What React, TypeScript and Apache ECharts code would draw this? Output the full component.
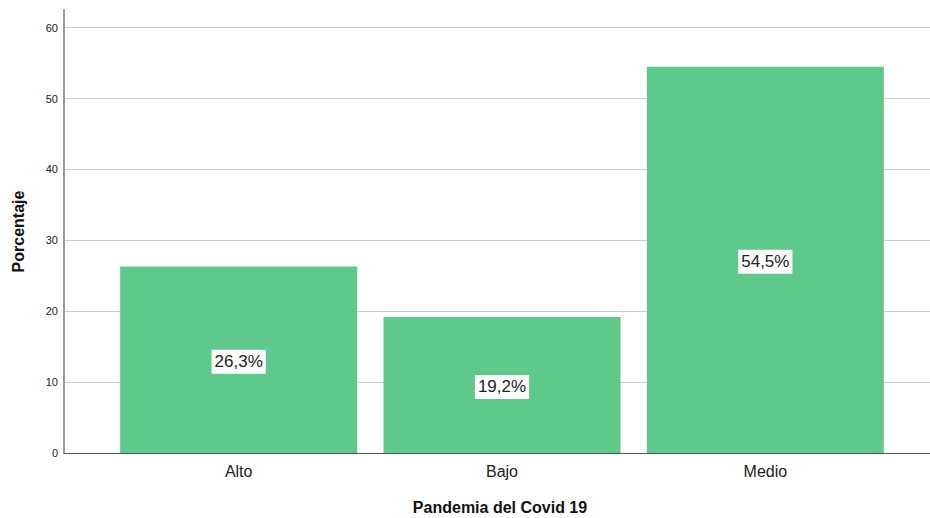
import React, { useEffect, useRef } from "react";
import * as echarts from "echarts";

const categories = ["Alto", "Bajo", "Medio"];
const percentages = [26.3, 19.2, 54.5];
const yTicks = { min: 0, max: 62.5, interval: 10 };
const xTitle = "Pandemia del Covid 19";
const yTitle = "Porcentaje";

const FONT = "Liberation Sans, Arial, sans-serif";

export default function App() {
  const ref = useRef<HTMLDivElement>(null);
  useEffect(() => {
    if (!ref.current) return;
    const chart = echarts.init(ref.current, undefined, { renderer: "svg" });
    chart.setOption({
      animation: false,
      backgroundColor: "#ffffff",
      textStyle: { fontFamily: FONT },
      grid: [
        { left: 64, right: 0, top: 10, bottom: 65, containLabel: false, outerBoundsMode: "none" },
        { left: 107, right: 33, top: 10, bottom: 65, containLabel: false, outerBoundsMode: "none" },
      ],
      xAxis: [
        {
          type: "category",
          gridIndex: 0,
          data: [""],
          axisLine: { show: true, lineStyle: { color: "#555555", width: 1 } },
          axisTick: { show: false },
          axisLabel: { show: false },
          splitLine: { show: false },
          name: xTitle,
          nameLocation: "middle",
          nameGap: 54,
          nameTextStyle: { fontFamily: FONT, fontSize: 16, fontWeight: "bold", color: "#111111", verticalAlign: "middle", padding: [0, 0, 0, 6] },
        },
        {
          type: "category",
          gridIndex: 1,
          data: categories,
          axisLine: { show: false },
          axisTick: { show: false },
          axisLabel: { show: true, fontFamily: FONT, fontSize: 16, color: "#222222", margin: 10 },
          splitLine: { show: false },
        },
      ],
      yAxis: [
        {
          type: "value",
          gridIndex: 0,
          min: yTicks.min,
          max: yTicks.max,
          interval: yTicks.interval,
          axisLine: { show: true, lineStyle: { color: "#9a9a9a", width: 2 } },
          axisTick: { show: false },
          axisLabel: { fontFamily: FONT, fontSize: 11, color: "#222222", margin: 6, showMaxLabel: false },
          splitLine: { show: true, showMinLine: false, showMaxLine: false, lineStyle: { color: "#cccccc", width: 1 } },
          name: yTitle,
          nameLocation: "middle",
          nameGap: 46,
          nameRotate: 90,
          nameTextStyle: { fontFamily: FONT, fontSize: 16, fontWeight: "bold", color: "#111111", verticalAlign: "middle" },
        },
        {
          type: "value",
          gridIndex: 1,
          min: yTicks.min,
          max: yTicks.max,
          interval: yTicks.interval,
          show: false,
          splitLine: { show: false },
        },
      ],
      series: [
        {
          type: "bar",
          xAxisIndex: 1,
          yAxisIndex: 1,
          data: percentages,
          barCategoryGap: "10%",
          itemStyle: { color: "#5ec98b" },
          label: {
            show: true,
            position: "inside",
            offset: [0, 2],
            formatter: (p: any) => String(p.value.toFixed(1)).replace(".", ",") + "%",
            fontFamily: FONT,
            fontSize: 17,
            color: "#222222",
            backgroundColor: "#ffffff",
            padding: [4, 3, 3, 3],
          },
        },
      ],
    });
    return () => chart.dispose();
  }, []);
  return (
    <div
      ref={ref}
      style={{ position: "fixed", left: 0, top: 0, width: 930, height: 518 }}
    />
  );
}
